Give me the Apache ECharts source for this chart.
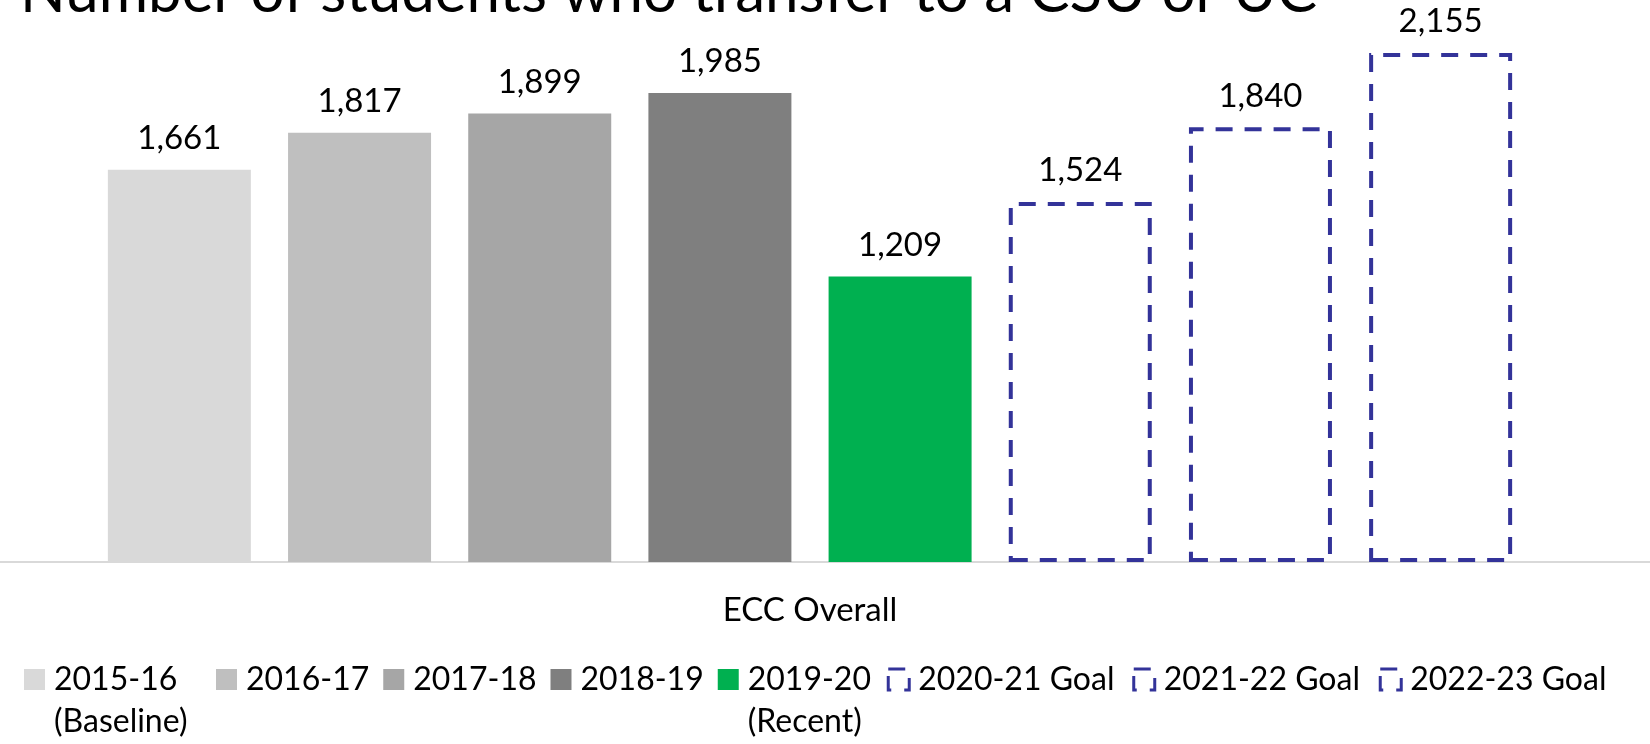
<!DOCTYPE html>
<html>
<head>
<meta charset="utf-8">
<script src="https://cdn.jsdelivr.net/npm/echarts@6/dist/echarts.min.js"></script>
<style>
html,body{margin:0;padding:0;background:#fff;}
#chart{width:1650px;height:744px;}
</style>
</head>
<body>
<div id="chart"></div>
<script>
const titleText = 'Number of students who transfer to a CSU or UC';
const categories = ['ECC Overall'];
const seriesNames = ['2015-16', '2016-17', '2017-18', '2018-19', '2019-20', '2020-21 Goal', '2021-22 Goal', '2022-23 Goal'];
const seriesNotes = ['(Baseline)', '', '', '', '(Recent)', '', '', ''];
const values = [1661, 1817, 1899, 1985, 1209, 1524, 1840, 2155];
const isGoal = [false, false, false, false, false, true, true, true];

const fillColors = ['#D9D9D9', '#BFBFBF', '#A6A6A6', '#7F7F7F', '#00B050', '#FFFFFF', '#FFFFFF', '#FFFFFF'];
const goalBorder = '#333399';
const legendTextWidths = [148, 122, 122, 123, 125, 200, 201, 196];
const FONT = 'Lato, "Open Sans", sans-serif';

const series = seriesNames.map((name, i) => ({
  name: name,
  type: 'bar',
  barWidth: 143,
  barGap: '26%',
  data: [values[i]],
  itemStyle: isGoal[i]
    ? { color: 'rgba(255,255,255,0)', borderColor: goalBorder, borderWidth: 4, borderType: [17, 12] }
    : { color: fillColors[i] },
  label: {
    show: true,
    position: 'top',
    distance: 15,
    color: '#000',
    fontFamily: FONT,
    fontSize: 33,
    formatter: p => p.value.toLocaleString('en-US')
  },
  emphasis: { disabled: true },
  animation: false
}));

const legendData = seriesNames.map((name, i) => {
  const item = {
    name: name,
    textStyle: { width: legendTextWidths[i] }
  };
  if (isGoal[i]) {
    item.itemStyle = { color: '#FFFFFF', borderColor: goalBorder, borderWidth: 3, borderType: [17, 13] };
  }
  return item;
});

const chart = echarts.init(document.getElementById('chart'), null, { renderer: 'canvas' });
chart.setOption({
  animation: false,
  backgroundColor: '#FFFFFF',
  title: {
    text: titleText,
    left: 20,
    top: -38,
    padding: 0,
    textStyle: { fontFamily: FONT, fontSize: 60, fontWeight: 'normal', color: '#000', lineHeight: 62 }
  },
  grid: { left: 0, right: 30, top: 18.7, bottom: 182, containLabel: false },
  graphic: [{
    type: 'line',
    silent: true,
    shape: { x1: 1615, y1: 562, x2: 1650, y2: 562 },
    style: { stroke: '#D9D9D9', lineWidth: 2 }
  }],
  xAxis: {
    type: 'category',
    data: categories,
    axisLine: { show: true, lineStyle: { color: '#D9D9D9', width: 2 } },
    axisTick: { show: false },
    axisLabel: { color: '#000', fontFamily: FONT, fontSize: 33, margin: 32 }
  },
  yAxis: {
    type: 'value',
    min: 0,
    max: 2300,
    show: false,
    splitLine: { show: false }
  },
  legend: {
    data: legendData,
    left: 24,
    top: 616.5,
    padding: 0,
    icon: 'rect',
    itemWidth: 21,
    itemHeight: 21,
    itemGap: 14,
    formatter: name => {
      const i = seriesNames.indexOf(name);
      return seriesNotes[i] ? '{s| }\n' + name + '\n' + seriesNotes[i] : name;
    },
    textStyle: {
      color: '#000', fontFamily: FONT, fontSize: 32, lineHeight: 42,
      padding: [0, 0, 0, 4],
      rich: { s: { fontSize: 32, lineHeight: 42, height: 42 } }
    }
  },
  series: series
});
</script>
</body>
</html>
